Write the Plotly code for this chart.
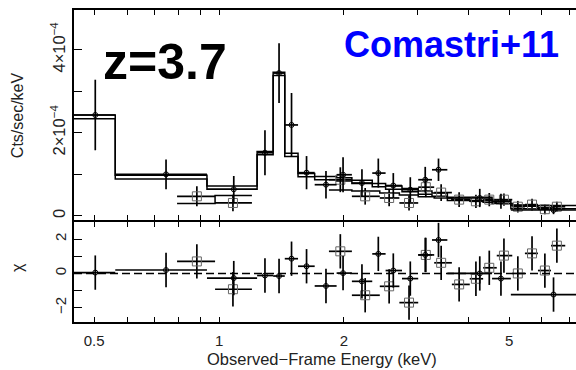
import numpy as np
import plotly.graph_objects as go

# ---------------- data ----------------
# pn spectrum (circles): bin edges and plotted energy in keV
pn_lo = [0.447, 0.562, 0.935, 1.235, 1.35, 1.44, 1.55, 1.70, 1.92, 2.09, 2.34, 2.52, 2.76, 3.02, 3.26, 3.55, 4.55, 5.05]
pn_hi = [0.562, 0.935, 1.235, 1.35, 1.44, 1.55, 1.70, 1.92, 2.09, 2.34, 2.52, 2.76, 3.02, 3.26, 3.55, 4.55, 5.05, 7.40]
pn_e = [0.503, 0.745, 1.085, 1.29, 1.395, 1.495, 1.625, 1.81, 1.99, 2.21, 2.42, 2.63, 2.89, 3.14, 3.38, 4.25, 4.78, 6.40]
# count rates and errors in units of 1e-4 cts/s/keV
pn_rate = [2.43, 1.00, 0.64, 1.52, 3.44, 2.19, 1.04, 0.75, 0.99, 0.79, 1.03, 0.73, 0.63, 0.87, 1.11, 0.43, 0.35, 0.14]
pn_err = [0.85, 0.36, 0.32, 0.54, 0.72, 0.77, 0.40, 0.33, 0.42, 0.33, 0.35, 0.30, 0.30, 0.31, 0.27, 0.22, 0.18, 0.10]
pn_model1 = [2.43, 0.98, 0.72, 1.55, 3.46, 1.51, 1.02, 0.95, 0.92, 0.86, 0.78, 0.72, 0.66, 0.60, 0.55, 0.45, 0.38, 0.25]
pn_model2 = [2.34, 0.89, 0.64, 1.47, 3.38, 1.43, 0.94, 0.87, 0.84, 0.78, 0.70, 0.64, 0.58, 0.52, 0.47, 0.37, 0.30, 0.17]
pn_chi = [0.05, 0.20, -0.27, -0.12, -0.15, 0.86, 0.42, -0.73, 0.02, -0.46, 1.14, 0.17, -0.30, 1.08, 1.95, 0.00, -0.30, -1.23]

# MOS spectrum (squares)
mos_lo = [0.792, 0.978, 1.84, 2.09, 2.44, 2.72, 3.02, 3.30, 3.64, 4.02, 4.33, 4.67, 5.09, 5.46, 5.87, 6.31]
mos_hi = [0.978, 1.20, 2.09, 2.44, 2.72, 3.02, 3.30, 3.64, 4.02, 4.33, 4.67, 5.09, 5.46, 5.87, 6.31, 6.83]
mos_e = [0.884, 1.08, 1.96, 2.25, 2.57, 2.87, 3.15, 3.43, 3.79, 4.16, 4.48, 4.86, 5.25, 5.68, 6.10, 6.52]
mos_rate = [0.47, 0.31, 0.87, 0.47, 0.43, 0.31, 0.69, 0.56, 0.39, 0.35, 0.39, 0.39, 0.22, 0.27, 0.16, 0.22]
mos_err = [0.24, 0.20, 0.30, 0.20, 0.20, 0.18, 0.24, 0.20, 0.18, 0.16, 0.16, 0.15, 0.14, 0.14, 0.12, 0.12]
mos_model = [0.30, 0.49, 0.62, 0.60, 0.55, 0.50, 0.46, 0.43, 0.40, 0.36, 0.33, 0.30, 0.26, 0.23, 0.20, 0.17]
mos_chi = [0.70, -0.92, 1.29, -1.27, -0.75, -1.70, 1.08, 0.62, -0.64, -0.31, 0.33, 1.04, 0.00, 1.17, 0.17, 1.62]

rate_ticks = [0, 2e-4, 4e-4]
rate_ticktext = ["0", "2×10<sup>−4</sup>", "4×10<sup>−4</sup>"]
chi_ticks = [-2, 0, 2]
energy_ticks = [0.5, 1, 2, 5]
energy_minor = [0.6, 0.7, 0.8, 0.9, 3, 4, 6, 7]

SCALE = 1e-4
E_MIN, E_MAX = 0.447, 7.25


def steps(lo, hi, vals):
    xs, ys = [], []
    prev = None
    for l, h, v in zip(lo, hi, vals):
        if prev is not None and abs(l - prev) > 1e-6:
            xs.append(None)
            ys.append(None)
        xs += [l, h]
        ys += [v * SCALE, v * SCALE]
        prev = h
    return xs, ys


def xerr(e, lo, hi):
    e = np.asarray(e)
    return dict(type="data", symmetric=False, array=(np.asarray(hi) - e).tolist(),
                arrayminus=(e - np.asarray(lo)).tolist(), color="black", thickness=1.7, width=0)


fig = go.Figure()

# model step lines
for lo, hi, m in [(pn_lo, pn_hi, pn_model1), (pn_lo, pn_hi, pn_model2), (mos_lo, mos_hi, mos_model)]:
    sx, sy = steps(lo, hi, m)
    fig.add_trace(go.Scatter(x=sx, y=sy, mode="lines", line=dict(color="black", width=1.5),
                             hoverinfo="skip", showlegend=False, xaxis="x", yaxis="y"))

# spectra with error bars
for e, lo, hi, r, er, sym, size, col in [
    (mos_e, mos_lo, mos_hi, mos_rate, mos_err, "square-open", 9, "#666666"),
    (pn_e, pn_lo, pn_hi, pn_rate, pn_err, "circle-open", 5, "black"),
]:
    fig.add_trace(go.Scatter(
        x=e, y=[v * SCALE for v in r], mode="markers",
        marker=dict(symbol=sym, size=size, color=col, line=dict(width=1, color=col)),
        error_x=xerr(e, lo, hi),
        error_y=dict(type="data", array=[v * SCALE for v in er], color="black", thickness=1.7, width=0),
        showlegend=False, xaxis="x", yaxis="y"))

# residuals
for e, lo, hi, c, sym, size, col in [
    (mos_e, mos_lo, mos_hi, mos_chi, "square-open", 9, "#666666"),
    (pn_e, pn_lo, pn_hi, pn_chi, "circle-open", 5, "black"),
]:
    fig.add_trace(go.Scatter(
        x=e, y=c, mode="markers",
        marker=dict(symbol=sym, size=size, color=col, line=dict(width=1, color=col)),
        error_x=xerr(e, lo, hi),
        error_y=dict(type="constant", value=1, color="black", thickness=1.7, width=0),
        showlegend=False, xaxis="x2", yaxis="y2"))

PLOT_H = 312
split = 0.327
split_low = split - 2 / PLOT_H  # lets the two panels share one divider line

xcommon = dict(type="log", range=[np.log10(E_MIN), np.log10(E_MAX)], domain=[0, 1],
               showline=True, linewidth=2, linecolor="black", mirror="ticks",
               ticks="inside", ticklen=5, tickwidth=1.3, tickcolor="black",
               tickvals=energy_ticks, ticktext=[str(v) for v in energy_ticks],
               minor=dict(tickvals=energy_minor, ticks="inside", ticklen=5, tickwidth=1.3, tickcolor="black"),
               showgrid=False, zeroline=False)
ycommon = dict(showline=True, linewidth=2, linecolor="black", mirror=False,
               ticks="inside", ticklen=8, tickwidth=1.3, tickcolor="black",
               showgrid=False, zeroline=False, tickangle=-90,
               tickfont=dict(family="Liberation Sans", size=16.5, color="#222"))

fig.update_layout(
    width=576, height=370,
    margin=dict(l=74, r=0, t=10, b=48),
    paper_bgcolor="white", plot_bgcolor="white",
    font=dict(family="Liberation Sans", color="#222"),
    xaxis=dict(xcommon, anchor="y", showticklabels=False, matches="x2"),
    xaxis2=dict(xcommon, anchor="y2", showticklabels=True, ticklabelstandoff=4,
                tickfont=dict(family="Liberation Sans", size=15, color="#222")),
    yaxis=dict(ycommon, domain=[split, 1], range=[-0.1e-4, 4.96e-4],
               tickvals=rate_ticks, ticktext=rate_ticktext, ticklabelstandoff=0,
               minor=dict(tickvals=[1e-4, 3e-4], ticks="inside", ticklen=8, tickwidth=1.3, tickcolor="black")),
    yaxis2=dict(ycommon, domain=[0, split_low], range=[-2.83, 3.0],
                tickvals=chi_ticks, ticktext=[str(v).replace("-", "−") for v in chi_ticks], ticklabelstandoff=0,
                tickfont=dict(family="Liberation Sans", size=15, color="#222"),
                minor=dict(tickvals=[-1, 1], ticks="inside", ticklen=8, tickwidth=1.3, tickcolor="black")),
)

# zero line of the residual panel
fig.add_shape(type="line", xref="x2 domain", yref="y2", x0=0, x1=1, y0=0, y1=0,
              line=dict(color="black", width=1.5, dash="8px,4px"))

# longer ticks at 1 keV
one = np.log10(1.0)
for xref, yref, y0, y1 in [("x", "y domain", 0, 0.048), ("x2", "y2 domain", 1, 0.91), ("x2", "y2 domain", 0, 0.088)]:
    fig.add_shape(type="line", xref=xref, yref=yref, x0=one, x1=one, y0=y0, y1=y1,
                  line=dict(color="black", width=1.5))

# labels
fig.add_annotation(text="Cts/sec/keV", xref="paper", yref="paper", x=-0.1135, y=0.663,
                   xanchor="center", yanchor="middle",
                   textangle=-90, showarrow=False, font=dict(size=16, color="#222"))
fig.add_annotation(text="χ", xref="paper", yref="paper", x=-0.1135, y=0.173,
                   xanchor="center", yanchor="middle",
                   textangle=-90, showarrow=False, font=dict(size=16, color="#222"))
fig.add_annotation(text="Observed−Frame Energy (keV)", xref="paper", yref="paper", x=0.494, y=-0.118,
                   xanchor="center", yanchor="middle",
                   showarrow=False, font=dict(size=16.5, color="#222"))
fig.add_annotation(text="<b>z=3.7</b>", xref="paper", yref="paper", x=0.1813, y=0.833,
                   xanchor="center", yanchor="middle",
                   showarrow=False, font=dict(size=50, color="black"))
fig.add_annotation(text="<b>Comastri+11</b>", xref="paper", yref="paper", x=0.751, y=0.891,
                   xanchor="center", yanchor="middle",
                   showarrow=False, font=dict(size=36, color="#0000ff"))

fig.write_html("out.html")
